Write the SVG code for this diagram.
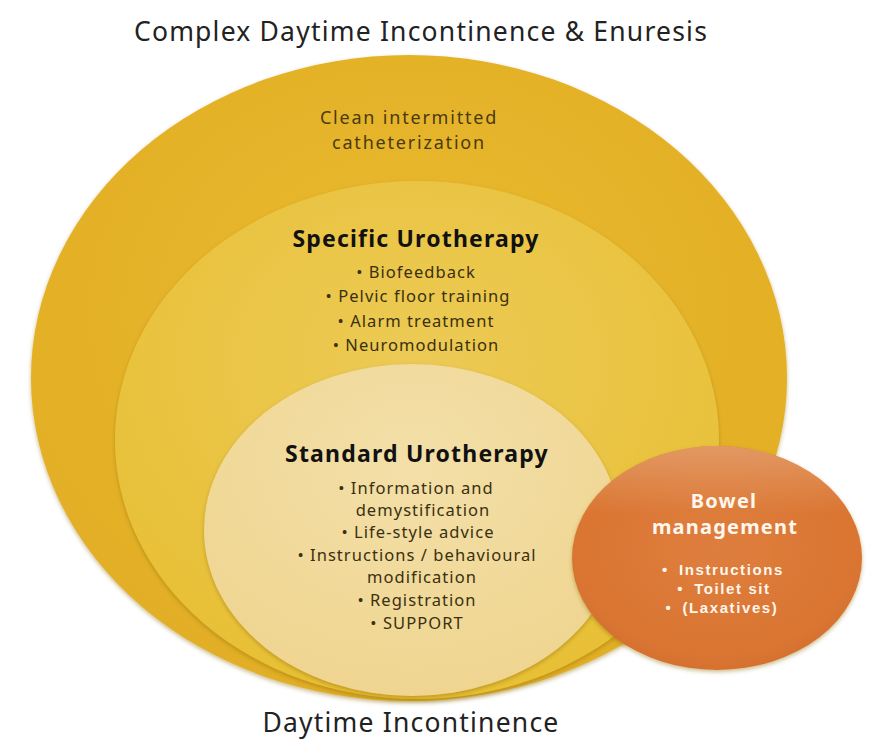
<svg xmlns="http://www.w3.org/2000/svg" width="892" height="742" viewBox="0 0 892 742">
  <defs>
    <radialGradient id="gOuter" cx="50%" cy="40%" r="60%">
      <stop offset="0" stop-color="#E9BA2E"/>
      <stop offset="1" stop-color="#E2AE25"/>
    </radialGradient>
    <radialGradient id="gMiddle" cx="50%" cy="35%" r="65%">
      <stop offset="0" stop-color="#ECCA55"/>
      <stop offset="1" stop-color="#E8C035"/>
    </radialGradient>
    <radialGradient id="gInner" cx="50%" cy="30%" r="70%">
      <stop offset="0" stop-color="#F3DFA8"/>
      <stop offset="1" stop-color="#EFD590"/>
    </radialGradient>
    <radialGradient id="gBowel" cx="50%" cy="45%" r="60%">
      <stop offset="0" stop-color="#DE7E3E"/>
      <stop offset="0.8" stop-color="#DA7532"/>
      <stop offset="1" stop-color="#D26E2C"/>
    </radialGradient>
    <linearGradient id="gBowelTop" x1="0" y1="0" x2="0" y2="1">
      <stop offset="0" stop-color="#E6A878" stop-opacity="0.7"/>
      <stop offset="0.3" stop-color="#E6A878" stop-opacity="0"/>
    </linearGradient>
    <filter id="shadow" x="-10%" y="-10%" width="120%" height="120%">
      <feGaussianBlur in="SourceAlpha" stdDeviation="2"/>
      <feOffset dx="0" dy="2" result="b"/>
      <feFlood flood-color="#8A6A10" flood-opacity="0.45"/>
      <feComposite in2="b" operator="in"/>
      <feMerge><feMergeNode/><feMergeNode in="SourceGraphic"/></feMerge>
    </filter>
  </defs>
  <style>
    text { font-family: "Noto Sans", "Open Sans", sans-serif; text-anchor: middle; }
    .cap { font-size: 26.5px; letter-spacing: 1.2px; fill: #222; }
    .lbl { font-size: 18px; letter-spacing: 1.8px; fill: #4a3a10; }
    .head { font-size: 23px; letter-spacing: 1.2px; font-weight: bold; fill: #111; }
    .item { font-size: 16.5px; letter-spacing: 1.05px; fill: #3a3010; }
    .bh { font-size: 20px; letter-spacing: 1.2px; font-weight: bold; fill: #fff6ec; }
    .bi { font-family: "Liberation Sans", Arial, sans-serif; font-size: 15px; letter-spacing: 1.6px; font-weight: bold; fill: #fff6ec; }
  </style>
  <rect width="892" height="742" fill="#ffffff"/>

  <text class="cap" x="421" y="41">Complex Daytime Incontinence &amp; Enuresis</text>

  <g id="outer">
    <ellipse cx="409" cy="378" rx="378" ry="323" fill="url(#gOuter)" filter="url(#shadow)"/>
    <text class="lbl" x="409" y="124">Clean intermitted</text>
    <text class="lbl" x="409" y="149">catheterization</text>
  </g>

  <g id="specific">
    <ellipse cx="417" cy="440" rx="302" ry="259" fill="url(#gMiddle)" filter="url(#shadow)"/>
    <text class="head" x="416" y="247">Specific Urotherapy</text>
    <text class="item" x="416" y="278">• Biofeedback</text>
    <text class="item" x="418" y="302">• Pelvic floor training</text>
    <text class="item" x="416" y="327">• Alarm treatment</text>
    <text class="item" x="416" y="351">• Neuromodulation</text>
  </g>

  <g id="standard">
    <ellipse cx="412" cy="530" rx="208" ry="166" fill="url(#gInner)" filter="url(#shadow)"/>
    <text class="head" x="417" y="462">Standard Urotherapy</text>
    <text class="item" x="416" y="494">•  Information and</text>
    <text class="item" x="423" y="516">demystification</text>
    <text class="item" x="418" y="538">• Life-style advice</text>
    <text class="item" x="417" y="561">•  Instructions / behavioural</text>
    <text class="item" x="422" y="583">modification</text>
    <text class="item" x="417" y="606">•  Registration</text>
    <text class="item" x="417" y="629">• SUPPORT</text>
  </g>

  <g id="bowel">
    <ellipse cx="717" cy="558" rx="145" ry="112" fill="url(#gBowel)" filter="url(#shadow)"/>
    <ellipse cx="717" cy="558" rx="145" ry="112" fill="url(#gBowelTop)"/>
    <text class="bh" x="724" y="508">Bowel</text>
    <text class="bh" x="725" y="534">management</text>
    <text class="bi" x="723" y="575">•<tspan dx="10">Instructions</tspan></text>
    <text class="bi" x="724" y="594">•<tspan dx="10">Toilet sit</tspan></text>
    <text class="bi" x="722" y="613">•<tspan dx="10">(Laxatives)</tspan></text>
  </g>

  <text class="cap" x="411" y="732">Daytime Incontinence</text>
</svg>
